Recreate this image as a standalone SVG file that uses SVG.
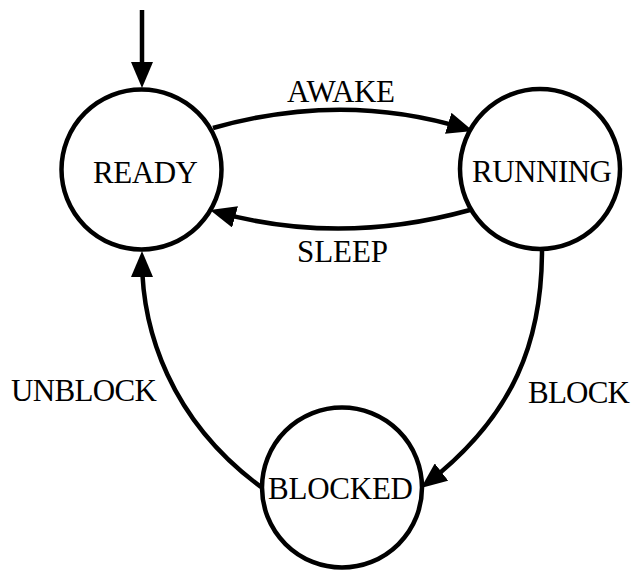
<svg xmlns="http://www.w3.org/2000/svg" width="632" height="570" viewBox="0 0 632 570">
  <style>
    .node circle { fill: #fff; stroke: #000; stroke-width: 4.5; }
    text { font-family: "Liberation Serif", "DejaVu Serif", serif; font-size: 31px; fill: #000; text-anchor: middle; }
    .edge { fill: none; stroke: #000; stroke-width: 4.5; marker-end: url(#arrow); }
  </style>
  <defs>
    <marker id="arrow" viewBox="0 0 26 22" refX="18" refY="11" markerWidth="26" markerHeight="22" markerUnits="userSpaceOnUse" orient="auto">
      <path d="M0,0 L26,11 L0,22 z" fill="#000"/>
    </marker>
  </defs>
  <rect width="632" height="570" fill="#fff"/>
  <g id="connectors">
    <path class="edge" d="M142,10 L142,80"/>
    <path class="edge" d="M213,128 Q343,91 465.4,128.6"/>
    <path class="edge" d="M470,210 Q340,246 217.7,212.1"/>
    <path class="edge" d="M542,250 C542,340 515,415 427.3,483.1"/>
    <path class="edge" d="M261,487 C170,420 142,330 142,259"/>
    <text x="341" y="102" textLength="108">AWAKE</text>
    <text x="342.5" y="262" textLength="91">SLEEP</text>
    <text x="579" y="403" textLength="102">BLOCK</text>
    <text x="84" y="401" textLength="146">UNBLOCK</text>
  </g>
  <g id="ready" class="node">
    <circle cx="141.5" cy="169.5" r="80"/>
    <text x="145.5" y="183" textLength="105">READY</text>
  </g>
  <g id="running" class="node">
    <circle cx="540" cy="169" r="80"/>
    <text x="542" y="182" textLength="140">RUNNING</text>
  </g>
  <g id="blocked" class="node">
    <circle cx="342" cy="487.5" r="80"/>
    <text x="340.5" y="499" textLength="145">BLOCKED</text>
  </g>
</svg>
